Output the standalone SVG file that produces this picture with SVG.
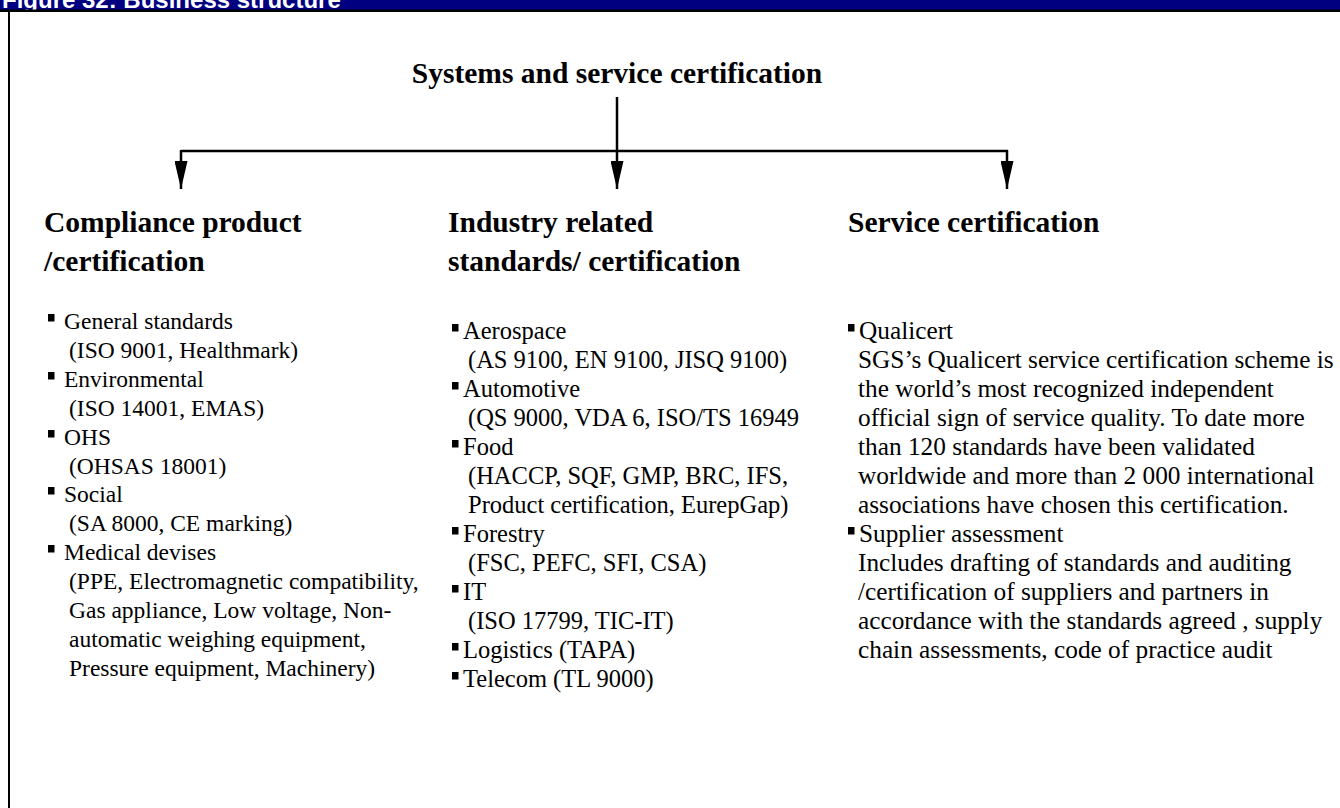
<svg xmlns="http://www.w3.org/2000/svg" width="1340" height="808" viewBox="0 0 1340 808">
  <defs>
    <marker id="arrow" markerWidth="28" markerHeight="13" refX="28" refY="6.5" orient="auto" markerUnits="userSpaceOnUse" viewBox="0 0 28 13">
      <path d="M0,0 L28,6.5 L0,13 Z" fill="#000"/>
    </marker>
  </defs>
  <style>
    .hdr { font-family: "Liberation Sans", Arial, sans-serif; font-weight: bold; font-size: 24px; fill: #fff; }
    .title { font-family: "Liberation Serif", "Times New Roman", serif; font-weight: bold; font-size: 29.5px; fill: #000; }
    .item { font-family: "Liberation Serif", "Times New Roman", serif; fill: #000; }
    .c1 { font-size: 23.5px; }
    .c2 { font-size: 24.5px; }
    .c3 { font-size: 25.3px; }
    .bul { fill: #000; }
    .wire { stroke: #000; stroke-width: 2.5; fill: none; }
  </style>
  <rect width="1340" height="808" fill="#fff"/>

  <!-- figure caption bar -->
  <g id="caption">
    <rect x="0" y="0" width="1340" height="10" fill="#000080"/>
    <text class="hdr" x="2" y="8">Figure 32: Business structure</text>
    <rect x="0" y="9.5" width="1340" height="2.5" fill="#000"/>
  </g>
  <!-- frame left edge -->
  <rect x="8" y="12" width="2" height="796" fill="#000"/>

  <!-- root node -->
  <g id="root">
    <text class="title" x="617" y="83" text-anchor="middle">Systems and service certification</text>
  </g>

  <!-- connectors -->
  <g id="connectors">
    <line class="wire" x1="617" y1="97" x2="617" y2="151"/>
    <line class="wire" x1="181" y1="151" x2="1008" y2="151"/>
    <line class="wire" x1="181" y1="150" x2="181" y2="189" marker-end="url(#arrow)"/>
    <line class="wire" x1="617" y1="150" x2="617" y2="189" marker-end="url(#arrow)"/>
    <line class="wire" x1="1007" y1="150" x2="1007" y2="189" marker-end="url(#arrow)"/>
  </g>

  <!-- column 1 -->
  <g id="compliance">
    <text class="title" x="44" y="232">Compliance product</text>
    <text class="title" x="44" y="271">/certification</text>
    <g class="bul">
      <rect x="48" y="314" width="6.5" height="7.5"/>
      <rect x="48" y="372" width="6.5" height="7.5"/>
      <rect x="48" y="430" width="6.5" height="7.5"/>
      <rect x="48" y="487" width="6.5" height="7.5"/>
      <rect x="48" y="545" width="6.5" height="7.5"/>
    </g>
    <g class="item c1">
      <text x="64" y="329">General standards</text>
      <text x="69" y="358">(ISO 9001, Healthmark)</text>
      <text x="64" y="387">Environmental</text>
      <text x="69" y="416">(ISO 14001, EMAS)</text>
      <text x="64" y="445">OHS</text>
      <text x="69" y="474">(OHSAS 18001)</text>
      <text x="64" y="502">Social</text>
      <text x="69" y="531">(SA 8000, CE marking)</text>
      <text x="64" y="560">Medical devises</text>
      <text x="69" y="589">(PPE, Electromagnetic compatibility,</text>
      <text x="69" y="618">Gas appliance, Low voltage, Non-</text>
      <text x="69" y="647">automatic weighing equipment,</text>
      <text x="69" y="676">Pressure equipment, Machinery)</text>
    </g>
  </g>

  <!-- column 2 -->
  <g id="industry">
    <text class="title" x="448" y="232">Industry related</text>
    <text class="title" x="448" y="271">standards/ certification</text>
    <g class="bul">
      <rect x="452" y="324" width="6.5" height="7.5"/>
      <rect x="452" y="382" width="6.5" height="7.5"/>
      <rect x="452" y="440" width="6.5" height="7.5"/>
      <rect x="452" y="527" width="6.5" height="7.5"/>
      <rect x="452" y="585" width="6.5" height="7.5"/>
      <rect x="452" y="643" width="6.5" height="7.5"/>
      <rect x="452" y="672" width="6.5" height="7.5"/>
    </g>
    <g class="item c2">
      <text x="463" y="339">Aerospace</text>
      <text x="468" y="368">(AS 9100, EN 9100, JISQ 9100)</text>
      <text x="463" y="397">Automotive</text>
      <text x="468" y="426">(QS 9000, VDA 6, ISO/TS 16949</text>
      <text x="463" y="455">Food</text>
      <text x="468" y="484">(HACCP, SQF, GMP, BRC, IFS,</text>
      <text x="468" y="513">Product certification, EurepGap)</text>
      <text x="463" y="542">Forestry</text>
      <text x="468" y="571">(FSC, PEFC, SFI, CSA)</text>
      <text x="463" y="600">IT</text>
      <text x="468" y="629">(ISO 17799, TIC-IT)</text>
      <text x="463" y="658">Logistics (TAPA)</text>
      <text x="463" y="687">Telecom (TL 9000)</text>
    </g>
  </g>

  <!-- column 3 -->
  <g id="service">
    <text class="title" x="848" y="232">Service certification</text>
    <g class="bul">
      <rect x="848" y="324" width="6.5" height="7.5"/>
      <rect x="848" y="527" width="6.5" height="7.5"/>
    </g>
    <g class="item c3">
      <text x="859" y="339">Qualicert</text>
      <text x="858" y="368">SGS’s Qualicert service certification scheme is</text>
      <text x="858" y="397">the world’s most recognized independent</text>
      <text x="858" y="426">official sign of service quality. To date more</text>
      <text x="858" y="455">than 120 standards have been validated</text>
      <text x="858" y="484">worldwide and more than 2 000 international</text>
      <text x="858" y="513">associations have chosen this certification.</text>
      <text x="859" y="542">Supplier assessment</text>
      <text x="858" y="571">Includes drafting of standards and auditing</text>
      <text x="858" y="600">/certification of suppliers and partners in</text>
      <text x="858" y="629">accordance with the standards agreed , supply</text>
      <text x="858" y="658">chain assessments, code of practice audit</text>
    </g>
  </g>
</svg>
